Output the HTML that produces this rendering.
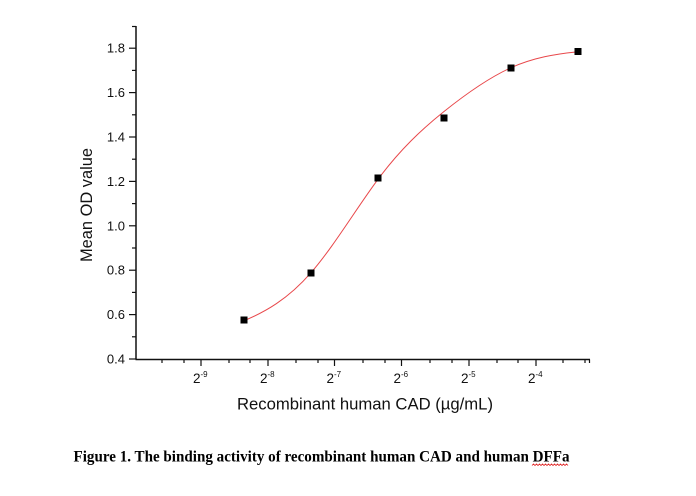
<!DOCTYPE html>
<html>
<head>
<meta charset="utf-8">
<style>
  html, body { margin: 0; padding: 0; background: #fff; }
  body { width: 696px; height: 496px; overflow: hidden; }
  svg { display: block; }
  .t { font-family: "Liberation Sans", Arial, sans-serif; fill: #111; }
  .cap { font-family: "Liberation Serif", "Times New Roman", serif; font-weight: bold; fill: #000; }
</style>
</head>
<body>
<svg width="696" height="496" viewBox="0 0 696 496" xmlns="http://www.w3.org/2000/svg">
  <rect width="696" height="496" fill="#fff"/>

  <!-- Axes -->
  <g stroke="#111" stroke-width="1.5" fill="none">
    <line x1="136" y1="26" x2="136" y2="359.5"/>
    <line x1="135.5" y1="359.5" x2="590" y2="359.5"/>
  </g>

  <!-- Y ticks -->
  <g stroke="#111" stroke-width="1.2">
    <line x1="129" y1="359" x2="136" y2="359"/>
    <line x1="129" y1="314.6" x2="136" y2="314.6"/>
    <line x1="129" y1="270.2" x2="136" y2="270.2"/>
    <line x1="129" y1="225.8" x2="136" y2="225.8"/>
    <line x1="129" y1="181.4" x2="136" y2="181.4"/>
    <line x1="129" y1="137" x2="136" y2="137"/>
    <line x1="129" y1="92.6" x2="136" y2="92.6"/>
    <line x1="129" y1="48.2" x2="136" y2="48.2"/>
    <line x1="132" y1="336.8" x2="136" y2="336.8"/>
    <line x1="132" y1="292.4" x2="136" y2="292.4"/>
    <line x1="132" y1="248" x2="136" y2="248"/>
    <line x1="132" y1="203.6" x2="136" y2="203.6"/>
    <line x1="132" y1="159.2" x2="136" y2="159.2"/>
    <line x1="132" y1="114.8" x2="136" y2="114.8"/>
    <line x1="132" y1="70.4" x2="136" y2="70.4"/>
    <line x1="132" y1="26.5" x2="136" y2="26.5"/>
  </g>

  <!-- X ticks -->
  <g stroke="#111" stroke-width="1.2">
    <line x1="201" y1="359.5" x2="201" y2="366"/>
    <line x1="268" y1="359.5" x2="268" y2="366"/>
    <line x1="334.5" y1="359.5" x2="334.5" y2="366"/>
    <line x1="401.5" y1="359.5" x2="401.5" y2="366"/>
    <line x1="469" y1="359.5" x2="469" y2="366"/>
    <line x1="536" y1="359.5" x2="536" y2="366"/>
    <line x1="162" y1="359.5" x2="162" y2="363"/>
    <line x1="184" y1="359.5" x2="184" y2="363"/>
    <line x1="229" y1="359.5" x2="229" y2="363"/>
    <line x1="250" y1="359.5" x2="250" y2="363"/>
    <line x1="296" y1="359.5" x2="296" y2="363"/>
    <line x1="318" y1="359.5" x2="318" y2="363"/>
    <line x1="363" y1="359.5" x2="363" y2="363"/>
    <line x1="385" y1="359.5" x2="385" y2="363"/>
    <line x1="430" y1="359.5" x2="430" y2="363"/>
    <line x1="452" y1="359.5" x2="452" y2="363"/>
    <line x1="497" y1="359.5" x2="497" y2="363"/>
    <line x1="518" y1="359.5" x2="518" y2="363"/>
    <line x1="563" y1="359.5" x2="563" y2="363"/>
    <line x1="585" y1="359.5" x2="585" y2="363"/>
    <line x1="589.5" y1="359.5" x2="589.5" y2="363"/>
  </g>

  <!-- Y tick labels -->
  <g class="t" font-size="13" text-anchor="end">
    <text x="125" y="363.5">0.4</text>
    <text x="125" y="319.1">0.6</text>
    <text x="125" y="274.7">0.8</text>
    <text x="125" y="230.3">1.0</text>
    <text x="125" y="185.9">1.2</text>
    <text x="125" y="141.5">1.4</text>
    <text x="125" y="97.1">1.6</text>
    <text x="125" y="52.7">1.8</text>
  </g>

  <!-- X tick labels -->
  <g class="t">
    <text x="193" y="383" font-size="13.5">2</text><text x="200.5" y="377" font-size="8">-9</text>
    <text x="260" y="383" font-size="13.5">2</text><text x="267.5" y="377" font-size="8">-8</text>
    <text x="326.5" y="383" font-size="13.5">2</text><text x="334" y="377" font-size="8">-7</text>
    <text x="393.5" y="383" font-size="13.5">2</text><text x="401" y="377" font-size="8">-6</text>
    <text x="461" y="383" font-size="13.5">2</text><text x="468.5" y="377" font-size="8">-5</text>
    <text x="528" y="383" font-size="13.5">2</text><text x="535.5" y="377" font-size="8">-4</text>
  </g>

  <!-- Axis titles -->
  <text class="t" x="237" y="409.5" font-size="16.7" textLength="256" lengthAdjust="spacingAndGlyphs">Recombinant human CAD (µg/mL)</text>
  <text class="t" font-size="16.5" text-anchor="middle" transform="translate(92,205) rotate(-90)" textLength="114" lengthAdjust="spacingAndGlyphs">Mean OD value</text>

  <!-- Fitted curve -->
  <path d="M242,321.5 C265,312.3 288,299.15 311,272.7 C333.33,247.02 355.67,209.45 378,179.3 C400,149.6 422,129.1 444,111.5 C466.33,93.63 488.67,77.75 511,67.7 C533.33,57.65 555.67,53.93 578,51.7"
        fill="none" stroke="#e8474a" stroke-width="1"/>

  <!-- Data points -->
  <g fill="#000">
    <rect x="240.5" y="316.5" width="7" height="7"/>
    <rect x="307.5" y="269.5" width="7" height="7"/>
    <rect x="374.5" y="174.5" width="7" height="7"/>
    <rect x="440.5" y="114.5" width="7" height="7"/>
    <rect x="507.5" y="64.5" width="7" height="7"/>
    <rect x="574.5" y="48" width="7" height="7"/>
  </g>

  <!-- Caption -->
  <text class="cap" x="73.5" y="461.5" font-size="16" textLength="496" lengthAdjust="spacingAndGlyphs">Figure 1. The binding activity of recombinant human CAD and human DFFa</text>
  <path d="M532,465.5 l1.5,-1.5 l1.5,1.5 l1.5,-1.5 l1.5,1.5 l1.5,-1.5 l1.5,1.5 l1.5,-1.5 l1.5,1.5 l1.5,-1.5 l1.5,1.5 l1.5,-1.5 l1.5,1.5 l1.5,-1.5 l1.5,1.5 l1.5,-1.5 l1.5,1.5 l1.5,-1.5 l1.5,1.5 l1.5,-1.5 l1.5,1.5 l1.5,-1.5 l1.5,1.5 l1.5,-1.5 l1.5,1.5"
        fill="none" stroke="#e02020" stroke-width="0.8"/>
</svg>
</body>
</html>
